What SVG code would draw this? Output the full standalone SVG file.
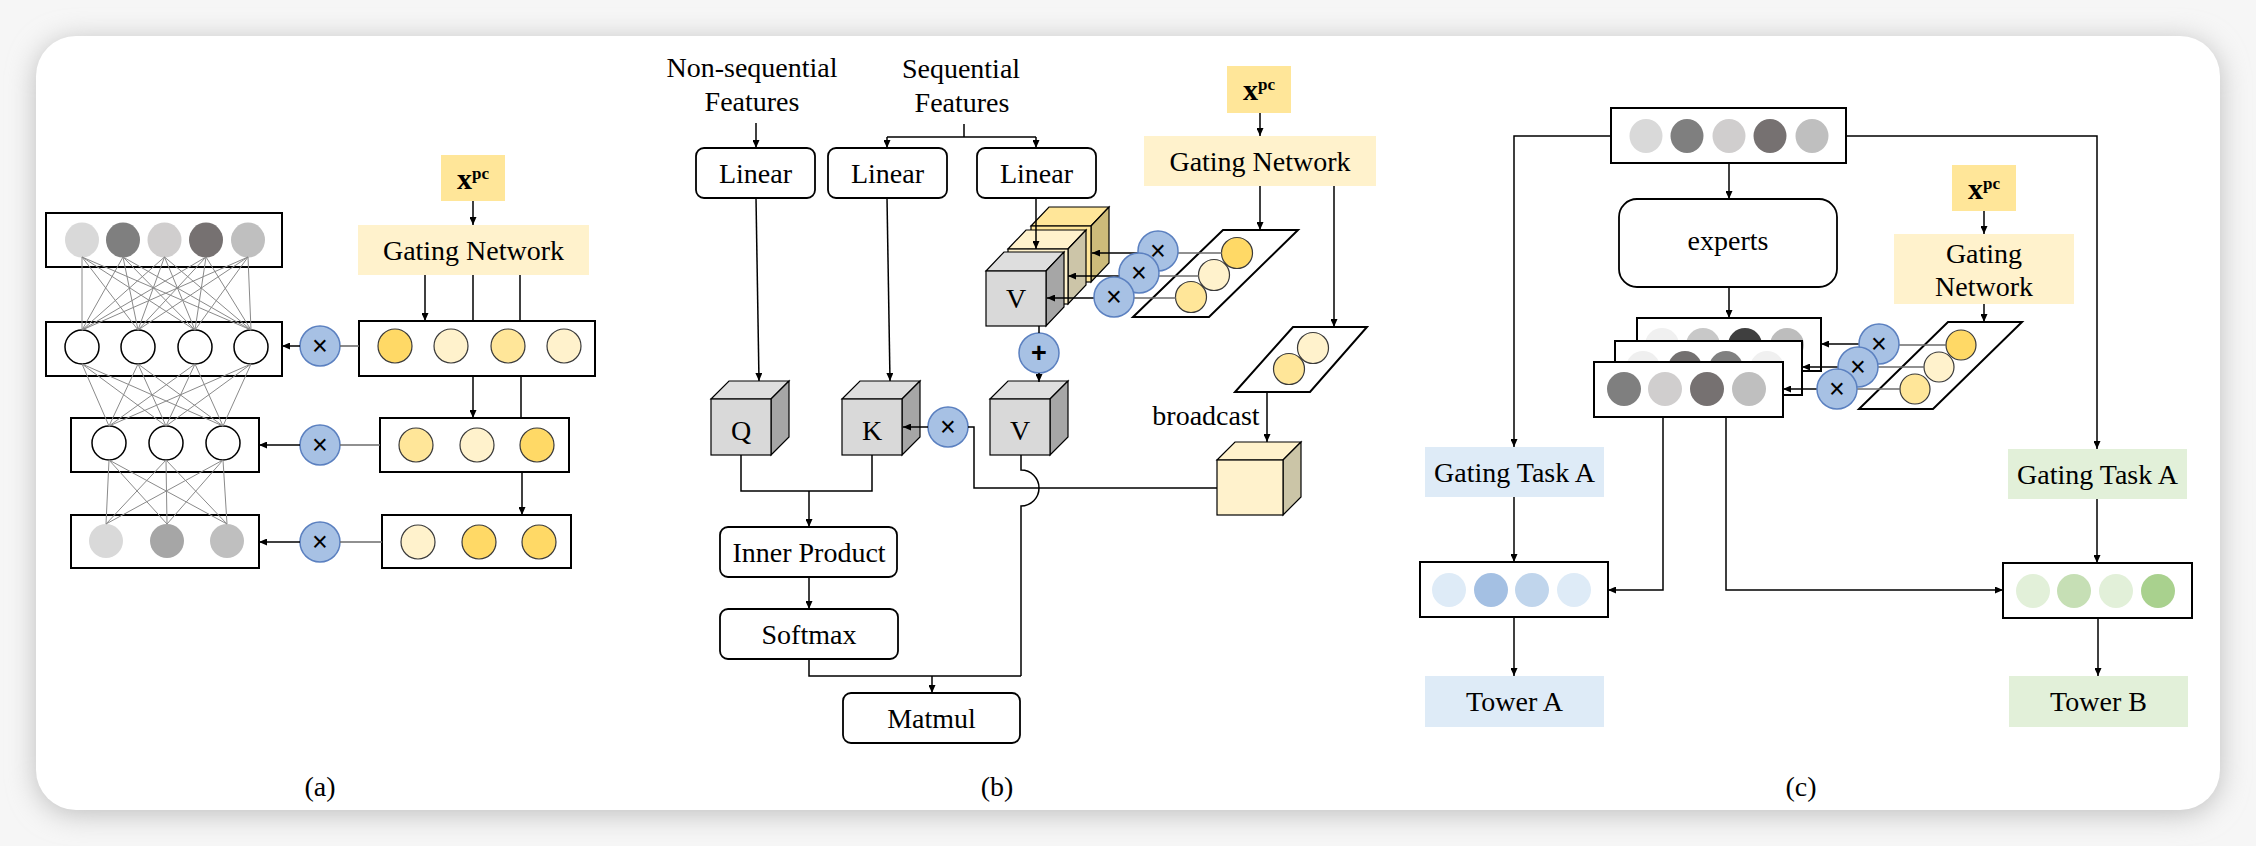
<svg xmlns="http://www.w3.org/2000/svg" width="2256" height="846" viewBox="0 0 2256 846">
<defs>
<marker id="arr" viewBox="0 0 8 7" refX="8" refY="3.5" markerWidth="8" markerHeight="7" markerUnits="userSpaceOnUse" orient="auto"><path d="M0,0 L8,3.5 L0,7 z" fill="#000"/></marker>
<filter id="sh" x="-5%" y="-10%" width="110%" height="120%"><feGaussianBlur stdDeviation="14"/></filter>
</defs>
<style>
.t{font-family:"Liberation Serif","Times New Roman",serif;font-size:28px;fill:#000;text-anchor:middle}
.xp{font-family:"Liberation Serif","Times New Roman",serif;font-weight:bold;fill:#000}
.sym{font-family:"Liberation Sans",Arial,sans-serif;font-size:27px;fill:#000;text-anchor:middle;dominant-baseline:central}
.box{fill:#fff;stroke:#000;stroke-width:2}
.rbox{fill:#fff;stroke:#000;stroke-width:1.8}
.ln{fill:none;stroke:#000;stroke-width:1.5}
.la{fill:none;stroke:#000;stroke-width:1.5;marker-end:url(#arr)}
.gl{fill:none;stroke:#6b6b6b;stroke-width:1.6}
.nn{fill:none;stroke:#8a8a8a;stroke-width:1}
.mul{fill:#a7c1e4;stroke:#5b80c0;stroke-width:1.5}
.g1{fill:#ffd966;stroke:#3a3a3a;stroke-width:1.2}
.g2{fill:#fff2cc;stroke:#3a3a3a;stroke-width:1.2}
.g3{fill:#ffe699;stroke:#3a3a3a;stroke-width:1.2}
.wc{fill:#fff;stroke:#000;stroke-width:1.5}
.xpc{fill:#ffe699}
.gn{fill:#fff2cc}
.para{fill:#fff;stroke:#000;stroke-width:2}
.cf{stroke:#000;stroke-width:1.2}
</style>
<rect x="0" y="0" width="2256" height="846" fill="#f6f6f6"/>
<rect x="36" y="40" width="2184" height="774" rx="40" fill="#bdbdbd" filter="url(#sh)"/>
<rect x="36" y="36" width="2184" height="774" rx="40" fill="#fff"/>

<!-- ===== Panel (a) ===== -->
<g id="a-input">
<rect class="box" x="46" y="213" width="236" height="54"/>
<ellipse cx="82" cy="240" rx="17" ry="17.5" fill="#d9d9d9"/><ellipse cx="123" cy="240" rx="17" ry="17.5" fill="#7f7f7f"/><ellipse cx="164.5" cy="240" rx="17" ry="17.5" fill="#d0cece"/><ellipse cx="206" cy="240" rx="17" ry="17.5" fill="#767171"/><ellipse cx="248" cy="240" rx="17" ry="17.5" fill="#bfbfbf"/>
</g>
<g id="a-layer1">
<rect class="box" x="46" y="322" width="236" height="54"/>
<circle class="wc" cx="82" cy="347" r="17"/><circle class="wc" cx="138" cy="347" r="17"/><circle class="wc" cx="195" cy="347" r="17"/><circle class="wc" cx="251" cy="347" r="17"/>
</g>
<g id="a-layer2">
<rect class="box" x="71" y="418" width="188" height="54"/>
<circle class="wc" cx="109" cy="443" r="17"/><circle class="wc" cx="166" cy="443" r="17"/><circle class="wc" cx="223" cy="443" r="17"/>
</g>
<g id="a-output">
<rect class="box" x="71" y="515" width="188" height="53"/>
<circle cx="106" cy="541" r="17" fill="#d9d9d9"/><circle cx="167" cy="541" r="17" fill="#a6a6a6"/><circle cx="227" cy="541" r="17" fill="#bfbfbf"/>
</g>
<g id="a-xpc">
<rect class="xpc" x="441" y="155" width="64" height="46"/>
<text class="xp" x="457" y="189"><tspan font-size="30">x</tspan><tspan font-size="17" dy="-10">pc</tspan></text>
</g>
<g id="a-gating">
<rect class="gn" x="358" y="225" width="231" height="50"/>
<text class="t" x="473.5" y="260">Gating Network</text>
</g>
<g id="a-gate1">
<rect class="box" x="359" y="321" width="236" height="55"/>
<circle class="g1" cx="395" cy="346" r="17"/><circle class="g2" cx="451" cy="346" r="17"/><circle class="g3" cx="508" cy="346" r="17"/><circle class="g2" cx="564" cy="346" r="17"/>
</g>
<g id="a-gate2">
<rect class="box" x="380" y="418" width="189" height="54"/>
<circle class="g3" cx="416" cy="445" r="17"/><circle class="g2" cx="477" cy="445" r="17"/><circle class="g1" cx="537" cy="445" r="17"/>
</g>
<g id="a-gate3">
<rect class="box" x="382" y="515" width="189" height="53"/>
<circle class="g2" cx="418" cy="542" r="17"/><circle class="g1" cx="479" cy="542" r="17"/><circle class="g1" cx="539" cy="542" r="17"/>
</g>
<g id="a-mul1"><circle class="mul" cx="320" cy="346" r="20"/><text class="sym" x="320" y="346">×</text></g>
<g id="a-mul2"><circle class="mul" cx="320" cy="445" r="20"/><text class="sym" x="320" y="445">×</text></g>
<g id="a-mul3"><circle class="mul" cx="320" cy="542" r="20"/><text class="sym" x="320" y="542">×</text></g>
<text class="t" x="320" y="796" font-size="26">(a)</text>

<!-- ===== Panel (b) ===== -->
<g id="b-nonseq"><text class="t" x="752" y="77">Non-sequential</text><text class="t" x="752" y="111">Features</text></g>
<g id="b-seq"><text class="t" x="961" y="78">Sequential</text><text class="t" x="962" y="112">Features</text></g>
<g id="b-linear1"><rect class="rbox" x="696" y="148" width="119" height="50" rx="8"/><text class="t" x="755.5" y="183">Linear</text></g>
<g id="b-linear2"><rect class="rbox" x="828" y="148" width="119" height="50" rx="8"/><text class="t" x="887.5" y="183">Linear</text></g>
<g id="b-linear3"><rect class="rbox" x="977" y="148" width="119" height="50" rx="8"/><text class="t" x="1036.5" y="183">Linear</text></g>
<g id="b-q">
<polygon class="cf" points="711,399 729,381 789,381 771,399" fill="#dedede"/>
<polygon class="cf" points="771,399 789,381 789,437 771,455" fill="#a6a6a6"/>
<rect class="cf" x="711" y="399" width="60" height="56" fill="#d9d9d9"/>
<text class="t" x="741" y="440">Q</text>
</g>
<g id="b-k">
<polygon class="cf" points="842,399 860,381 920,381 902,399" fill="#dedede"/>
<polygon class="cf" points="902,399 920,381 920,437 902,455" fill="#a6a6a6"/>
<rect class="cf" x="842" y="399" width="60" height="56" fill="#d9d9d9"/>
<text class="t" x="872" y="440">K</text>
</g>
<g id="b-v-out">
<polygon class="cf" points="990,399 1008,381 1068,381 1050,399" fill="#dedede"/>
<polygon class="cf" points="1050,399 1068,381 1068,437 1050,455" fill="#a6a6a6"/>
<rect class="cf" x="990" y="399" width="60" height="56" fill="#d9d9d9"/>
<text class="t" x="1020" y="440">V</text>
</g>
<g id="b-v-stack">
<polygon class="cf" points="1031,226 1049,207 1109,207 1091,226" fill="#ffe699"/>
<polygon class="cf" points="1091,226 1109,207 1109,263 1091,282" fill="#cdbb7a"/>
<rect class="cf" x="1031" y="226" width="60" height="56" fill="#ffe699"/>
<polygon class="cf" points="1008,249 1026,230 1086,230 1068,249" fill="#fff2cc"/>
<polygon class="cf" points="1068,249 1086,230 1086,285 1068,304" fill="#ccc5a8"/>
<rect class="cf" x="1008" y="249" width="60" height="55" fill="#fff2cc"/>
<polygon class="cf" points="986,271 1004,252 1064,252 1046,271" fill="#dedede"/>
<polygon class="cf" points="1046,271 1064,252 1064,307 1046,326" fill="#a6a6a6"/>
<rect class="cf" x="986" y="271" width="60" height="55" fill="#d9d9d9"/>
<text class="t" x="1016" y="308">V</text>
</g>
<g id="b-plus"><circle class="mul" cx="1039" cy="353" r="20"/><text class="sym" x="1039" y="353" font-weight="bold">+</text></g>
<g id="b-xpc">
<rect class="xpc" x="1227" y="66" width="64" height="47"/>
<text class="xp" x="1243" y="100"><tspan font-size="30">x</tspan><tspan font-size="17" dy="-10">pc</tspan></text>
</g>
<g id="b-gating"><rect class="gn" x="1144" y="136" width="232" height="50"/><text class="t" x="1260" y="171">Gating Network</text></g>
<g id="b-gate3">
<polygon class="para" points="1223,230 1298,230 1209,317 1133,317"/>
<circle class="g1" cx="1237" cy="253" r="15.5"/><circle class="g2" cx="1214" cy="275" r="15.5"/><circle class="g3" cx="1191" cy="297" r="15.5"/>
</g>
<g id="b-gate2">
<polygon class="para" points="1293,327 1367,327 1310,392 1235,392"/>
<circle class="g2" cx="1313" cy="348" r="15.5"/><circle class="g3" cx="1289" cy="369" r="15.5"/>
</g>
<g id="b-broadcast">
<text class="t" x="1206" y="425">broadcast</text>
<polygon class="cf" points="1217,460 1235,442 1301,442 1283,460" fill="#fff2cc"/>
<polygon class="cf" points="1283,460 1301,442 1301,497 1283,515" fill="#cbc5a7"/>
<rect class="cf" x="1217" y="460" width="66" height="55" fill="#fff2cc"/>
</g>
<g id="b-mulk"><circle class="mul" cx="948" cy="427" r="20"/><text class="sym" x="948" y="427">×</text></g>
<g id="b-inner"><rect class="rbox" x="720" y="527" width="177" height="50" rx="8"/><text class="t" x="809" y="562">Inner Product</text></g>
<g id="b-softmax"><rect class="rbox" x="720" y="609" width="178" height="50" rx="8"/><text class="t" x="809" y="644">Softmax</text></g>
<g id="b-matmul"><rect class="rbox" x="843" y="693" width="177" height="50" rx="8"/><text class="t" x="931.5" y="728">Matmul</text></g>
<text class="t" x="997" y="796" font-size="26">(b)</text>

<!-- ===== Panel (c) ===== -->
<g id="c-input">
<rect class="box" x="1611" y="108" width="235" height="55"/>
<ellipse cx="1646" cy="136" rx="16.5" ry="17" fill="#d9d9d9"/><ellipse cx="1687" cy="136" rx="16.5" ry="17" fill="#7f7f7f"/><ellipse cx="1729" cy="136" rx="16.5" ry="17" fill="#d0cece"/><ellipse cx="1770" cy="136" rx="16.5" ry="17" fill="#767171"/><ellipse cx="1812" cy="136" rx="16.5" ry="17" fill="#bfbfbf"/>
</g>
<g id="c-experts"><rect class="rbox" x="1619" y="199" width="218" height="88" rx="18"/><text class="t" x="1728" y="250">experts</text></g>
<g id="c-expert-outs">
<rect class="box" x="1637" y="318" width="184" height="53"/>
<circle cx="1662" cy="345" r="17" fill="#f0f0f0"/><circle cx="1703" cy="345" r="17" fill="#c8c8c8"/><circle cx="1745" cy="345" r="17" fill="#3f3f3f"/><circle cx="1787" cy="345" r="17" fill="#bdbdbd"/>
<rect class="box" x="1615" y="341" width="187" height="54"/>
<circle cx="1643" cy="368" r="17" fill="#efefef"/><circle cx="1685" cy="368" r="17" fill="#737070"/><circle cx="1726" cy="368" r="17" fill="#808080"/><circle cx="1767" cy="368" r="17" fill="#f0f0f0"/>
<rect class="box" x="1594" y="362" width="189" height="55"/>
<circle cx="1624" cy="389" r="17" fill="#7f7f7f"/><circle cx="1665" cy="389" r="17" fill="#d0cece"/><circle cx="1707" cy="389" r="17" fill="#767171"/><circle cx="1749" cy="389" r="17" fill="#bfbfbf"/>
</g>
<g id="c-xpc">
<rect class="xpc" x="1952" y="165" width="64" height="46"/>
<text class="xp" x="1968" y="199"><tspan font-size="30">x</tspan><tspan font-size="17" dy="-10">pc</tspan></text>
</g>
<g id="c-gating"><rect class="gn" x="1894" y="234" width="180" height="70"/><text class="t" x="1984" y="263">Gating</text><text class="t" x="1984" y="296">Network</text></g>
<g id="c-gate">
<polygon class="para" points="1948,322 2022,322 1933,409 1859,409"/>
<circle class="g1" cx="1961" cy="345" r="15"/><circle class="g2" cx="1939" cy="367" r="15"/><circle class="g3" cx="1915" cy="389" r="15"/>
</g>
<g id="c-gatingA"><rect x="1425" y="447" width="179" height="50" fill="#deebf7"/><text class="t" x="1514.5" y="482" font-size="27">Gating Task A</text></g>
<g id="c-gatingB"><rect x="2008" y="449" width="179" height="50" fill="#e2f0d9"/><text class="t" x="2097.5" y="484" font-size="27">Gating Task A</text></g>
<g id="c-mixA">
<rect class="box" x="1420" y="562" width="188" height="55"/>
<ellipse cx="1449" cy="590" rx="17" ry="17" fill="#deebf7"/><ellipse cx="1491" cy="590" rx="17" ry="17" fill="#a4c0e3"/><ellipse cx="1532" cy="590" rx="17" ry="17" fill="#c0d5ec"/><ellipse cx="1574" cy="590" rx="17" ry="17" fill="#deebf7"/>
</g>
<g id="c-mixB">
<rect class="box" x="2003" y="563" width="189" height="55"/>
<ellipse cx="2033" cy="591" rx="17" ry="17" fill="#e2f0d9"/><ellipse cx="2074" cy="591" rx="17" ry="17" fill="#c6dfb5"/><ellipse cx="2116" cy="591" rx="17" ry="17" fill="#e2f0d9"/><ellipse cx="2158" cy="591" rx="17" ry="17" fill="#a9d18e"/>
</g>
<g id="c-towerA"><rect x="1425" y="676" width="179" height="51" fill="#deebf7"/><text class="t" x="1514.5" y="711">Tower A</text></g>
<g id="c-towerB"><rect x="2009" y="676" width="179" height="51" fill="#e2f0d9"/><text class="t" x="2098.5" y="711">Tower B</text></g>
<text class="t" x="1801" y="796" font-size="26">(c)</text>

<!-- ===== Connectors ===== -->
<g id="connectors">
<g class="nn">
<path d="M82,257 L82,330 M82,257 L138,330 M82,257 L195,330 M82,257 L251,330
M123,257 L82,330 M123,257 L138,330 M123,257 L195,330 M123,257 L251,330
M164.5,257 L82,330 M164.5,257 L138,330 M164.5,257 L195,330 M164.5,257 L251,330
M206,257 L82,330 M206,257 L138,330 M206,257 L195,330 M206,257 L251,330
M248,257 L82,330 M248,257 L138,330 M248,257 L195,330 M248,257 L251,330
M82,364 L109,426 M82,364 L166,426 M82,364 L223,426
M138,364 L109,426 M138,364 L166,426 M138,364 L223,426
M195,364 L109,426 M195,364 L166,426 M195,364 L223,426
M251,364 L109,426 M251,364 L166,426 M251,364 L223,426
M109,460 L106,524 M109,460 L167,524 M109,460 L227,524
M166,460 L106,524 M166,460 L167,524 M166,460 L227,524
M223,460 L106,524 M223,460 L167,524 M223,460 L227,524"/>
</g>
<line class="la" x1="473" y1="201" x2="473" y2="225"/>
<line class="la" x1="425" y1="275" x2="425" y2="321"/>
<line class="ln" x1="473" y1="275" x2="473" y2="321"/>
<line class="ln" x1="520" y1="275" x2="520" y2="321"/>
<line class="la" x1="473" y1="376" x2="473" y2="418"/>
<line class="ln" x1="521" y1="376" x2="521" y2="418"/>
<line class="la" x1="522" y1="472" x2="522" y2="515"/>
<line class="gl" x1="340" y1="346" x2="359" y2="346"/>
<line class="gl" x1="340" y1="445" x2="380" y2="445"/>
<line class="gl" x1="340" y1="542" x2="382" y2="542"/>
<line class="la" x1="300" y1="346" x2="282" y2="346"/>
<line class="la" x1="300" y1="445" x2="259" y2="445"/>
<line class="la" x1="300" y1="542" x2="259" y2="542"/>
<line class="la" x1="756" y1="123" x2="756" y2="148"/>
<path class="ln" d="M964,124 V137 M887,137 H1036"/>
<line class="la" x1="887" y1="137" x2="887" y2="148"/>
<line class="la" x1="1036" y1="137" x2="1036" y2="148"/>
<line class="la" x1="756" y1="198" x2="759" y2="381"/>
<line class="la" x1="887" y1="198" x2="890" y2="381"/>
<line class="la" x1="1036" y1="198" x2="1036" y2="249"/>
<line class="ln" x1="1039" y1="326" x2="1039" y2="333"/>
<line class="la" x1="1039" y1="373" x2="1039" y2="382"/>
<line class="la" x1="1260" y1="113" x2="1260" y2="136"/>
<line class="la" x1="1260" y1="186" x2="1260" y2="230"/>
<line class="la" x1="1334" y1="186" x2="1334" y2="327"/>
<line class="gl" x1="1178" y1="253" x2="1222" y2="253"/>
<line class="gl" x1="1159" y1="276" x2="1199" y2="276"/>
<line class="gl" x1="1134" y1="298" x2="1176" y2="298"/>
<line class="la" x1="1138" y1="253" x2="1092" y2="253"/>
<line class="la" x1="1119" y1="276" x2="1068" y2="276"/>
<line class="la" x1="1094" y1="298" x2="1047" y2="298"/>
<line class="la" x1="1267" y1="392" x2="1267" y2="442"/>
<line class="la" x1="928" y1="427" x2="903" y2="427"/>
<path class="ln" d="M968,427 H974 V488 H1217"/>
<path class="ln" d="M741,455 V491 H872 V455"/>
<line class="la" x1="809" y1="491" x2="809" y2="527"/>
<line class="la" x1="809" y1="577" x2="809" y2="609"/>
<path class="ln" d="M809,659 V676 H1021"/>
<path class="ln" d="M1021,455 V470 A18,18 0 0 1 1021,506 V676"/>
<line class="la" x1="932" y1="676" x2="932" y2="693"/>
<path class="la" d="M1611,136 H1514 V447"/>
<path class="la" d="M1846,136 H2097 V449"/>
<line class="la" x1="1729" y1="163" x2="1729" y2="199"/>
<line class="la" x1="1729" y1="287" x2="1729" y2="318"/>
<line class="la" x1="1984" y1="211" x2="1984" y2="234"/>
<line class="la" x1="1984" y1="304" x2="1984" y2="322"/>
<line class="gl" x1="1899" y1="345" x2="1946" y2="345"/>
<line class="gl" x1="1878" y1="367" x2="1924" y2="367"/>
<line class="gl" x1="1857" y1="389" x2="1900" y2="389"/>
<line class="la" x1="1859" y1="344" x2="1821" y2="344"/>
<line class="la" x1="1838" y1="367" x2="1802" y2="367"/>
<line class="la" x1="1817" y1="389" x2="1783" y2="389"/>
<path class="la" d="M1663,417 V590 H1608"/>
<path class="la" d="M1726,417 V590 H2003"/>
<line class="la" x1="1514" y1="497" x2="1514" y2="562"/>
<line class="la" x1="2097" y1="499" x2="2097" y2="563"/>
<line class="la" x1="1514" y1="617" x2="1514" y2="676"/>
<line class="la" x1="2098" y1="618" x2="2098" y2="676"/>
</g>

<g id="b-mul-top"><circle class="mul" cx="1158" cy="251" r="20"/><text class="sym" x="1158" y="251">×</text></g>
<g id="b-mul-mid"><circle class="mul" cx="1139" cy="273" r="20"/><text class="sym" x="1139" y="273">×</text></g>
<g id="b-mul-bot"><circle class="mul" cx="1114" cy="297" r="20"/><text class="sym" x="1114" y="297">×</text></g>
<g id="c-mul-top"><circle class="mul" cx="1879" cy="344" r="20"/><text class="sym" x="1879" y="344">×</text></g>
<g id="c-mul-mid"><circle class="mul" cx="1858" cy="367" r="20"/><text class="sym" x="1858" y="367">×</text></g>
<g id="c-mul-bot"><circle class="mul" cx="1837" cy="389" r="20"/><text class="sym" x="1837" y="389">×</text></g>
</svg>
